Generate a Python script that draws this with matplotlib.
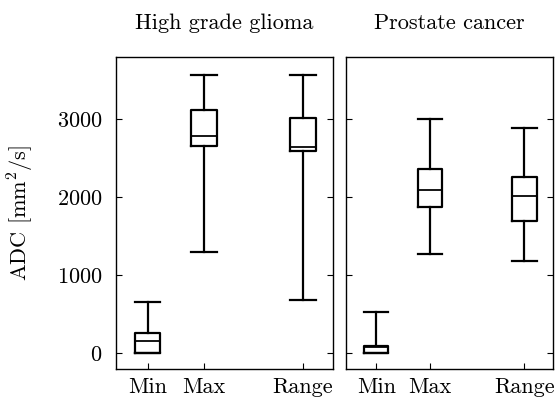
import matplotlib
matplotlib.use("Agg")
import matplotlib.pyplot as plt

plt.rcParams["font.family"] = "cmr10"
plt.rcParams["mathtext.fontset"] = "cm"
plt.rcParams["axes.formatter.use_mathtext"] = True

groups = ["High grade glioma", "Prostate cancer"]
categories = ["Min", "Max", "Range"]
positions = [1, 2, 3.75]

# box stats per group: whislo, q1, med, q3, whishi
glioma_whislo = [0, 1295, 679]
glioma_q1 = [0, 2654, 2594]
glioma_med = [154, 2790, 2645]
glioma_q3 = [256, 3119, 3021]
glioma_whishi = [654, 3564, 3564]

prostate_whislo = [0, 1277, 1187]
prostate_q1 = [0, 1880, 1696]
prostate_med = [80, 2097, 2021]
prostate_q3 = [95, 2367, 2260]
prostate_whishi = [526, 3000, 2888]

data = [
    (glioma_whislo, glioma_q1, glioma_med, glioma_q3, glioma_whishi),
    (prostate_whislo, prostate_q1, prostate_med, prostate_q3, prostate_whishi),
]

fig = plt.figure(figsize=(5.56, 4.01), dpi=100)
W, H = 556, 401
rects = [(116, 57, 333, 369), (346, 57, 553, 369)]

fs = 16
lw = 1.6
for i, (title, stats) in enumerate(zip(groups, data)):
    x0, y0, x1, y1 = rects[i]
    ax = fig.add_axes([x0 / W, 1 - y1 / H, (x1 - x0) / W, (y1 - y0) / H])
    bstats = []
    for j, cat in enumerate(categories):
        bstats.append(dict(whislo=stats[0][j], q1=stats[1][j], med=stats[2][j],
                           q3=stats[3][j], whishi=stats[4][j], label=cat))
    ax.bxp(bstats, positions=positions, widths=0.45, showfliers=False,
           boxprops=dict(color="black", linewidth=lw),
           whiskerprops=dict(color="black", linewidth=lw),
           capprops=dict(color="black", linewidth=lw),
           medianprops=dict(color="black", linewidth=lw * 0.8),
           capwidths=0.45)
    ax.set_xlim(0.44, 4.28)
    ax.set_ylim(-200, 3800)
    ax.set_yticks([0, 1000, 2000, 3000])
    ax.tick_params(direction="in", length=4, right=True, top=False,
                   labelsize=fs, width=0.8)
    ax.tick_params(axis="y", pad=10)
    ax.tick_params(axis="x", pad=6)
    for s in ax.spines.values():
        s.set_linewidth(1.0)
    ax.set_title(title, fontsize=fs, pad=20)
    if i == 0:
        ax.set_ylabel(r"ADC [mm$^2$/s]", fontsize=fs, labelpad=15)
    else:
        ax.set_yticklabels([])

fig.savefig("out.png", dpi=100)
